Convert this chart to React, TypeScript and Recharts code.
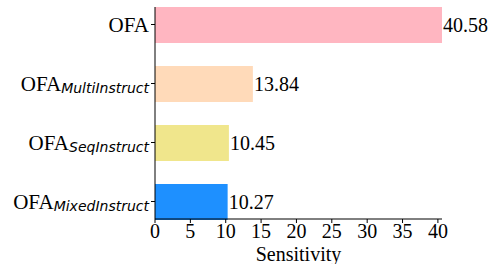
import { BarChart, Bar, XAxis, YAxis, Cell, LabelList } from "recharts";

const models = ["OFA", "OFA_MultiInstruct", "OFA_SeqInstruct", "OFA_MixedInstruct"];
const sensitivity = [40.58, 13.84, 10.45, 10.27];
const colors = ["#FFB6C1", "#FFDAB9", "#F0E68C", "#1E90FF"];
const xTicks = [0, 5, 10, 15, 20, 25, 30, 35, 40];

const data = models.map((name, i) => ({ name, value: sensitivity[i], color: colors[i] }));

const serif = "'Liberation Serif', 'Times New Roman', serif";

function ModelTick(props: any) {
  const { x, y, payload } = props;
  const [base, sub] = String(payload.value).split("_");
  return (
    <text x={x} y={y} textAnchor="end" dominantBaseline="central" fill="#000">
      <tspan fontFamily={serif} fontSize={21}>
        {base}
      </tspan>
      {sub && (
        <tspan fontFamily="'DejaVu Sans', sans-serif" fontStyle="italic" fontSize={14} dy={4}>
          {sub}
        </tspan>
      )}
    </text>
  );
}

export default function App() {
  return (
    <div style={{ position: "absolute", left: 0, top: 0, background: "#fff" }}>
      <BarChart
        width={491}
        height={264}
        data={data}
        layout="vertical"
        margin={{ top: 7, right: 49, bottom: 0, left: 0 }}
      >
        <XAxis
          type="number"
          domain={[0, 40.58]}
          ticks={xTicks}
          tickSize={4}
          tickMargin={1}
          stroke="#000"
          tick={{ fill: "#000", fontSize: 20, fontFamily: serif }}
          label={{
            value: "Sensitivity",
            position: "insideBottom",
            offset: 3,
            fill: "#000",
            fontSize: 20,
            fontFamily: serif,
          }}
          height={45}
        />
        <YAxis
          type="category"
          dataKey="name"
          width={155}
          padding={{ top: -12, bottom: -12 }}
          tickSize={4}
          tickMargin={2}
          stroke="#000"
          tick={<ModelTick />}
        />
        <Bar dataKey="value" barSize={36} isAnimationActive={false}>
          {data.map((d, i) => (
            <Cell key={i} fill={d.color} />
          ))}
          <LabelList
            dataKey="value"
            position="right"
            offset={1}
            fill="#000"
            fontSize={20}
            fontFamily={serif}
            formatter={(v: any) => Number(v).toFixed(2)}
          />
        </Bar>
      </BarChart>
    </div>
  );
}
